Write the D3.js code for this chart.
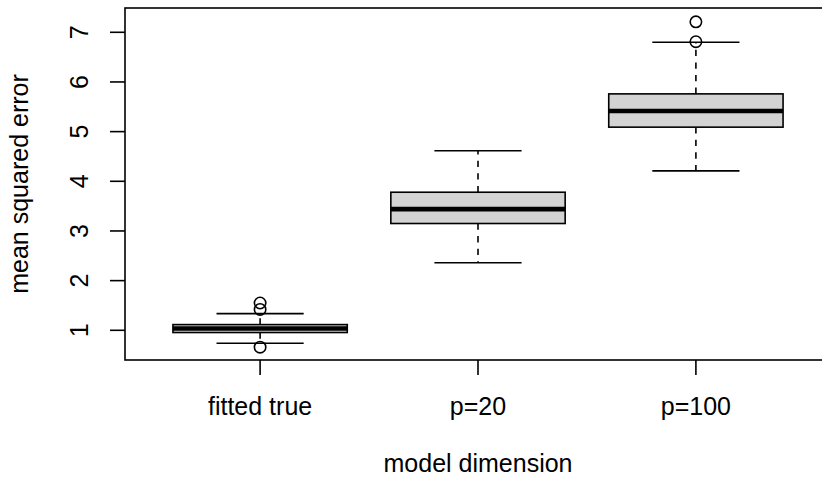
<!DOCTYPE html>
<html><head><meta charset="utf-8">
<script src="https://cdn.jsdelivr.net/npm/d3@7"></script>
<style>body{margin:0;background:#fff}svg{display:block}text{font-family:"Liberation Sans",Arial,sans-serif;fill:#000}</style>
</head><body>
<script>
const categories = ["fitted true", "p=20", "p=100"];
const lowerWhisker = [0.74, 2.36, 4.21];
const q1 = [0.955, 3.15, 5.09];
const median = [1.035, 3.44, 5.415];
const q3 = [1.115, 3.78, 5.76];
const upperWhisker = [1.335, 4.615, 6.80];
const outliers = [[1.55, 1.42, 0.66], [], [6.81, 7.21]];
const yTicks = [1, 2, 3, 4, 5, 6, 7];
const xTitle = "model dimension";
const yTitle = "mean squared error";

const W = 822, H = 483;
const svg = d3.select("body").append("svg").attr("width", W).attr("height", H);
const x = d3.scaleLinear().domain([0.38, 3.62]).range([125, 831]);
const y = d3.scaleLinear().domain([0.402, 7.489]).range([360, 8]);
const FS = 25, LW = 1.6;
const boxHalf = 0.4, capHalf = 0.2;

const g = svg.append("g");
categories.forEach((c, i) => {
  const cx = x(i + 1);
  const bx0 = x(i + 1 - boxHalf), bx1 = x(i + 1 + boxHalf);
  const cx0 = x(i + 1 - capHalf), cx1 = x(i + 1 + capHalf);
  g.append("line").attr("x1", cx).attr("x2", cx).attr("y1", y(q3[i])).attr("y2", y(upperWhisker[i]))
    .attr("stroke", "#000").attr("stroke-width", LW).attr("stroke-dasharray", "6.3,6.3");
  g.append("line").attr("x1", cx).attr("x2", cx).attr("y1", y(q1[i])).attr("y2", y(lowerWhisker[i]))
    .attr("stroke", "#000").attr("stroke-width", LW).attr("stroke-dasharray", "6.3,6.3");
  [upperWhisker[i], lowerWhisker[i]].forEach(v => {
    g.append("line").attr("x1", cx0).attr("x2", cx1).attr("y1", y(v)).attr("y2", y(v))
      .attr("stroke", "#000").attr("stroke-width", LW);
  });
  g.append("rect").attr("x", bx0).attr("width", bx1 - bx0)
    .attr("y", y(q3[i])).attr("height", y(q1[i]) - y(q3[i]))
    .attr("fill", "#D3D3D3").attr("stroke", "#000").attr("stroke-width", LW);
  g.append("line").attr("x1", bx0).attr("x2", bx1).attr("y1", y(median[i])).attr("y2", y(median[i]))
    .attr("stroke", "#000").attr("stroke-width", 4.6);
  outliers[i].forEach(v => {
    g.append("circle").attr("cx", cx).attr("cy", y(v)).attr("r", 5.7)
      .attr("fill", "none").attr("stroke", "#000").attr("stroke-width", LW);
  });
});

svg.append("rect").attr("x", 125).attr("y", 8).attr("width", 831 - 125).attr("height", 352)
  .attr("fill", "none").attr("stroke", "#000").attr("stroke-width", LW);

const ya = svg.append("g");
yTicks.forEach(t => {
  ya.append("line").attr("x1", 110).attr("x2", 125).attr("y1", y(t)).attr("y2", y(t))
    .attr("stroke", "#000").attr("stroke-width", LW);
  ya.append("text").attr("transform", `translate(88,${y(t)}) rotate(-90)`)
    .attr("text-anchor", "middle").attr("font-size", FS).text(t);
});
const xa = svg.append("g");
categories.forEach((c, i) => {
  xa.append("line").attr("x1", x(i + 1)).attr("x2", x(i + 1)).attr("y1", 360).attr("y2", 375)
    .attr("stroke", "#000").attr("stroke-width", LW);
  xa.append("text").attr("x", x(i + 1)).attr("y", 415).attr("text-anchor", "middle")
    .attr("font-size", FS).text(c);
});
svg.append("text").attr("x", 478).attr("y", 472).attr("text-anchor", "middle").attr("font-size", FS).text(xTitle);
svg.append("text").attr("transform", `translate(28,184) rotate(-90)`).attr("text-anchor", "middle")
  .attr("font-size", FS).text(yTitle);
</script>
</body></html>
